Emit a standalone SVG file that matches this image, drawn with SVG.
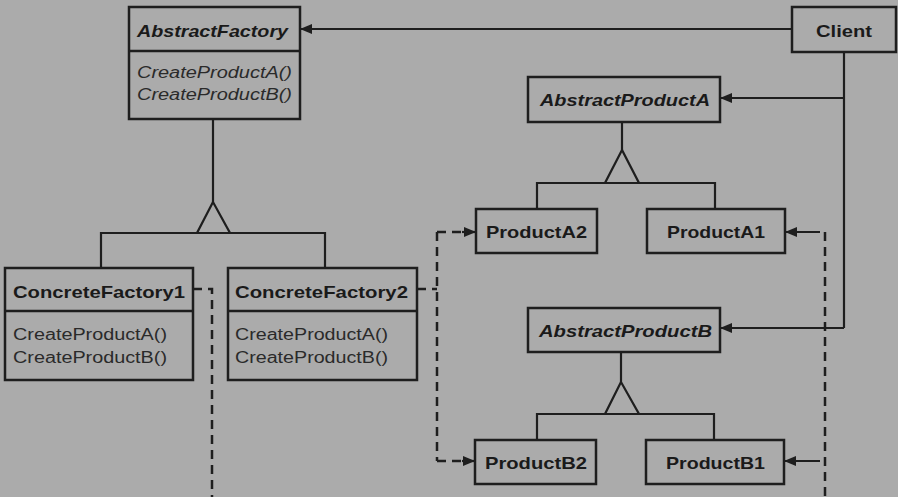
<svg xmlns="http://www.w3.org/2000/svg" width="898" height="497" viewBox="0 0 898 497">
<defs>
<marker id="arr" viewBox="0 0 12 10" refX="12" refY="5" markerWidth="12" markerHeight="10" markerUnits="userSpaceOnUse" orient="auto">
<path d="M0,0 L12,5 L0,10 Z" fill="#1e1e1e"/>
</marker>
<style>
.box{fill:none;stroke:#1e1e1e;stroke-width:2.5}
.ln{fill:none;stroke:#1e1e1e;stroke-width:2.2}
.dash{fill:none;stroke:#1e1e1e;stroke-width:2.5;stroke-dasharray:9 6}
.tri{fill:#ababab;stroke:#1e1e1e;stroke-width:2.2;stroke-linejoin:miter}
.t{font-family:"Liberation Sans",Arial,sans-serif;font-weight:bold;font-size:17px;fill:#1a1a1a}
.ti{font-family:"Liberation Sans",Arial,sans-serif;font-weight:bold;font-style:italic;font-size:17px;fill:#1a1a1a}
.m{font-family:"Liberation Sans",Arial,sans-serif;font-size:16px;fill:#2a2a2a}
.mi{font-family:"Liberation Sans",Arial,sans-serif;font-style:italic;font-size:16px;fill:#2a2a2a}
</style>
</defs>
<rect width="898" height="497" fill="#ababab"/>
<g id="connectors">
<path class="ln" d="M792,29 H300" marker-end="url(#arr)"/>
<path class="ln" d="M844,52 V328"/>
<path class="ln" d="M844,98 H720" marker-end="url(#arr)"/>
<path class="ln" d="M844,328 H720" marker-end="url(#arr)"/>
<path class="ln" d="M213,119 V202"/>
<path class="ln" d="M101,268 V233 H325 V268"/>
<polygon class="tri" points="213,202 197,233 230,233"/>
<path class="ln" d="M622,122 V150"/>
<path class="ln" d="M537,209 V183 H715 V209"/>
<polygon class="tri" points="622,150 605,183 639,183"/>
<path class="ln" d="M621,352 V382"/>
<path class="ln" d="M537,440 V414 H714 V440"/>
<polygon class="tri" points="621,382 605,414 639,414"/>
<path class="dash" d="M193,289 H212 V497"/>
<path class="dash" d="M417,289 H437"/>
<path class="dash" d="M437,232 V461"/>
<path class="dash" d="M437,232 H463"/>
<path class="ln" d="M462,232 H476" marker-end="url(#arr)"/>
<path class="dash" d="M437,461 H463"/>
<path class="ln" d="M462,461 H475" marker-end="url(#arr)"/>
<path class="dash" d="M825,232 V497"/>
<path class="ln" d="M820,232 H785" marker-end="url(#arr)"/>
<path class="ln" d="M820,461 H784" marker-end="url(#arr)"/>
</g>
<g id="AbstractFactory">
<rect class="box" x="129" y="7" width="171" height="112"/>
<path class="box" d="M129,51 H300"/>
<text class="ti" x="137" y="37" textLength="151" lengthAdjust="spacingAndGlyphs">AbstractFactory</text>
<text class="mi" x="137" y="78" textLength="155" lengthAdjust="spacingAndGlyphs">CreateProductA()</text>
<text class="mi" x="137" y="100" textLength="155" lengthAdjust="spacingAndGlyphs">CreateProductB()</text>
</g>
<g id="Client">
<rect class="box" x="792" y="7" width="104" height="45"/>
<text class="t" x="816" y="37" textLength="56" lengthAdjust="spacingAndGlyphs">Client</text>
</g>
<g id="AbstractProductA">
<rect class="box" x="528" y="77" width="192" height="45"/>
<text class="ti" x="540" y="106" textLength="170" lengthAdjust="spacingAndGlyphs">AbstractProductA</text>
</g>
<g id="ProductA2">
<rect class="box" x="476" y="209" width="121" height="44"/>
<text class="t" x="486" y="238" textLength="101" lengthAdjust="spacingAndGlyphs">ProductA2</text>
</g>
<g id="ProductA1">
<rect class="box" x="647" y="209" width="138" height="44"/>
<text class="t" x="667" y="238" textLength="98" lengthAdjust="spacingAndGlyphs">ProductA1</text>
</g>
<g id="ConcreteFactory1">
<rect class="box" x="5" y="268" width="188" height="112"/>
<path class="box" d="M5,311 H193"/>
<text class="t" x="13" y="298" textLength="172" lengthAdjust="spacingAndGlyphs">ConcreteFactory1</text>
<text class="m" x="13" y="340" textLength="154" lengthAdjust="spacingAndGlyphs">CreateProductA()</text>
<text class="m" x="13" y="363" textLength="154" lengthAdjust="spacingAndGlyphs">CreateProductB()</text>
</g>
<g id="ConcreteFactory2">
<rect class="box" x="228" y="268" width="189" height="112"/>
<path class="box" d="M228,311 H417"/>
<text class="t" x="235" y="298" textLength="173" lengthAdjust="spacingAndGlyphs">ConcreteFactory2</text>
<text class="m" x="235" y="340" textLength="153" lengthAdjust="spacingAndGlyphs">CreateProductA()</text>
<text class="m" x="235" y="363" textLength="153" lengthAdjust="spacingAndGlyphs">CreateProductB()</text>
</g>
<g id="AbstractProductB">
<rect class="box" x="528" y="308" width="192" height="44"/>
<text class="ti" x="539" y="337" textLength="173" lengthAdjust="spacingAndGlyphs">AbstractProductB</text>
</g>
<g id="ProductB2">
<rect class="box" x="475" y="440" width="121" height="44"/>
<text class="t" x="485" y="469" textLength="102" lengthAdjust="spacingAndGlyphs">ProductB2</text>
</g>
<g id="ProductB1">
<rect class="box" x="646" y="440" width="138" height="44"/>
<text class="t" x="666" y="469" textLength="99" lengthAdjust="spacingAndGlyphs">ProductB1</text>
</g>
</svg>
